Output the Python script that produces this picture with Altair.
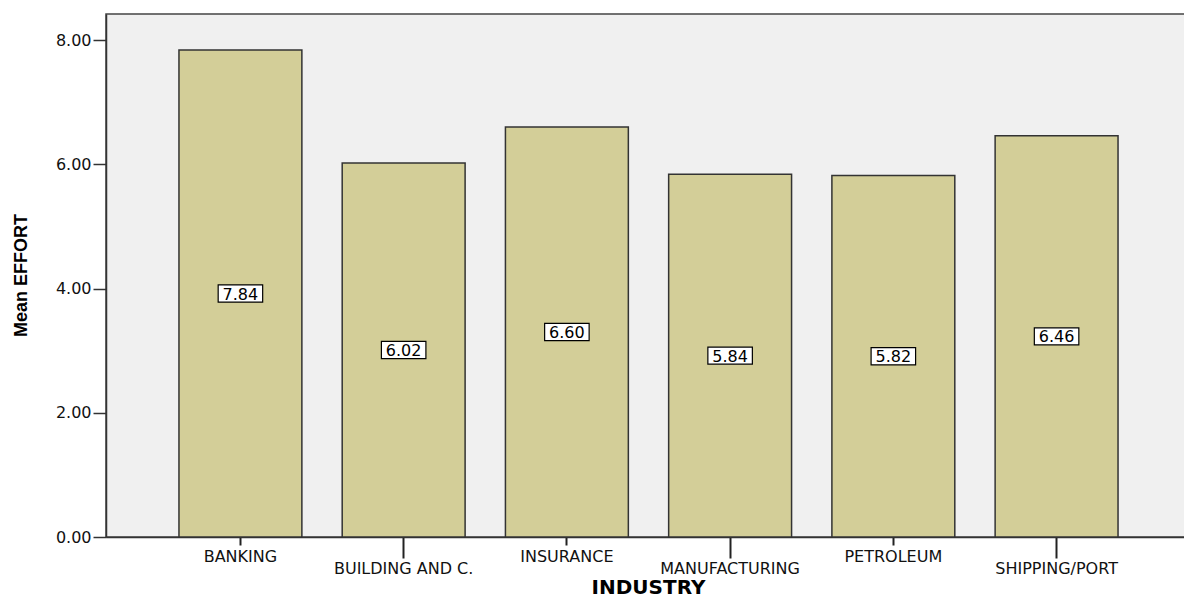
import altair as alt
import pandas as pd

industries = ["BANKING", "BUILDING AND C.", "INSURANCE", "MANUFACTURING", "PETROLEUM", "SHIPPING/PORT"]
mean_effort = [7.84, 6.02, 6.60, 5.84, 5.82, 6.46]
y_ticks = [0, 2, 4, 6, 8]
lower_labels = ["BUILDING AND C.", "MANUFACTURING", "SHIPPING/PORT"]

df = pd.DataFrame({"industry": industries, "effort": mean_effort})
df["half"] = df["effort"] / 2

lower_test = "indexof(" + str(lower_labels) + ", datum.value) >= 0"

x_enc = alt.X(
    "industry:N",
    sort=industries,
    scale=alt.Scale(paddingInner=0.247, paddingOuter=0.447),
    axis=alt.Axis(
        title="INDUSTRY",
        titleFont="DejaVu Sans",
        titleFontSize=20,
        titleFontWeight="bold",
        titleColor="#000000",
        titleX=542,
        titleY=56,
        titleBaseline="alphabetic",
        labelAngle=0,
        labelFont="DejaVu Sans",
        labelFontSize=16,
        labelColor="#111111",
        labelBaseline="top",
        labelLimit=300,
        labelPadding={"condition": {"test": lower_test, "value": 2}, "value": 3},
        tickSize={"condition": {"test": lower_test, "value": 21}, "value": 8},
        tickColor="#222222",
        tickWidth=2,
        domainColor="#333333",
        domainWidth=1.5,
    ),
)

y_scale = alt.Scale(domain=[0, 8.42], nice=False, zero=True)

bars = alt.Chart(df).mark_bar(
    color="#d3ce98", stroke="#333333", strokeWidth=1.5
).encode(
    x=x_enc,
    y=alt.Y(
        "effort:Q",
        scale=y_scale,
        axis=alt.Axis(
            title="Mean EFFORT",
            titleFont="Liberation Sans",
            titleFontSize=18,
            titleFontWeight="bold",
            titleColor="#000000",
            titleAngle=-90,
            titleX=-80,
            titleY=261,
            titleAlign="center",
            titleBaseline="alphabetic",
            values=y_ticks,
            format=".2f",
            labelFont="DejaVu Sans",
            labelFontSize=16,
            labelColor="#111111",
            labelPadding=2,
            tickSize=13,
            tickColor="#333333",
            tickWidth=1.5,
            domainColor="#333333",
            domainWidth=1.5,
            grid=False,
        ),
    ),
)

boxes = alt.Chart(df).mark_point(
    shape="M-1,-0.386L1,-0.386L1,0.386L-1,0.386Z",
    size=1980,
    filled=True,
    fill="#ffffff",
    stroke="#000000",
    strokeWidth=1.2,
    opacity=1,
).encode(
    x=alt.X("industry:N", sort=industries),
    y=alt.Y("half:Q", scale=y_scale),
)

texts = alt.Chart(df).mark_text(
    font="DejaVu Sans", fontSize=16, color="#000000", align="center", baseline="middle", dy=1
).encode(
    x=alt.X("industry:N", sort=industries),
    y=alt.Y("half:Q", scale=y_scale),
    text=alt.Text("effort:Q", format=".2f"),
)

chart = alt.layer(bars, boxes, texts).properties(
    width=1085,
    height=523,
    autosize=alt.AutoSizeParams(type="none"),
    padding={"left": 98, "top": 6, "right": -7, "bottom": 62},
    background="#ffffff",
).configure_view(
    fill="#f0f0f0", stroke="#444444", strokeWidth=1.5
)

chart.save("out.html", embed_options={"renderer": "svg", "actions": False})
